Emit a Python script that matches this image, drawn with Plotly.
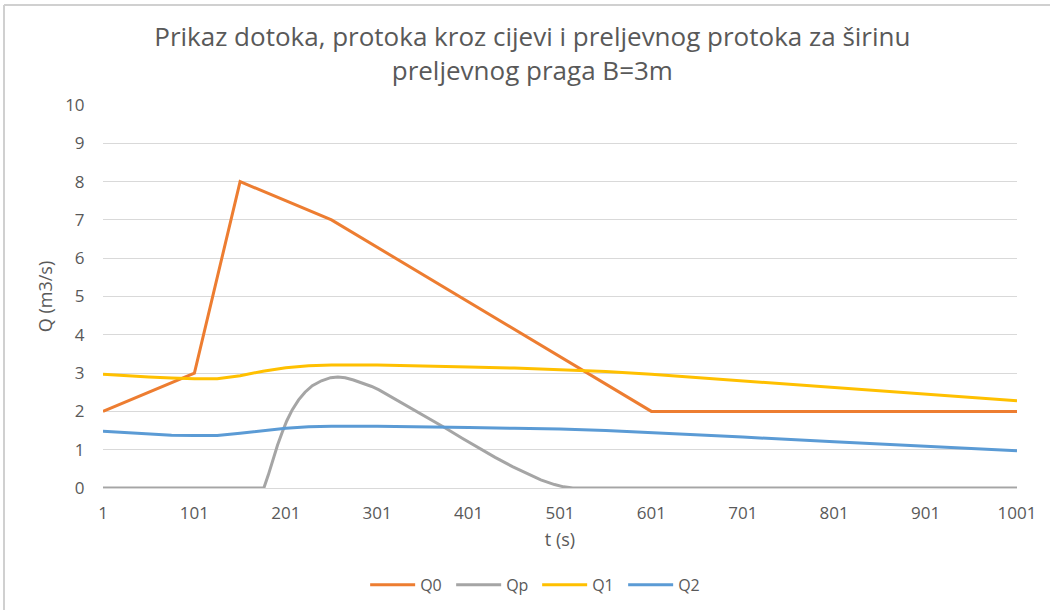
import plotly.graph_objects as go

# ---- data ----
t_q0 = [1, 101, 151, 251, 601, 1001]
q0 = [2.0, 3.0, 8.0, 7.0, 2.0, 2.0]

t_qp = [1, 177, 182, 187, 192, 197, 202, 208, 215, 222, 230, 240, 250, 258, 266, 275, 285, 295, 303,
        320, 340, 358, 376, 394, 412, 430, 449, 465, 480, 495, 505, 515, 1001]
qp = [0.0, 0.0, 0.35, 0.75, 1.12, 1.45, 1.75, 2.04, 2.3, 2.5, 2.67, 2.8, 2.88, 2.9, 2.88, 2.82, 2.74, 2.65, 2.56,
      2.33, 2.04, 1.8, 1.56, 1.3, 1.05, 0.8, 0.56, 0.37, 0.21, 0.09, 0.03, 0.0, 0.0]

t_q = [1, 26, 51, 76, 101, 126, 151, 176, 201, 226, 251, 301, 351, 401, 451, 501, 551, 601, 701, 801, 901, 1001]
q1 = [2.97, 2.93, 2.9, 2.87, 2.85, 2.85, 2.93, 3.05, 3.14, 3.19, 3.21, 3.21, 3.19, 3.16, 3.13, 3.09, 3.04, 2.97, 2.8, 2.63, 2.45, 2.28]
q2 = [1.48, 1.45, 1.41, 1.38, 1.37, 1.37, 1.43, 1.5, 1.56, 1.6, 1.61, 1.61, 1.6, 1.58, 1.56, 1.54, 1.5, 1.45, 1.33, 1.21, 1.09, 0.97]

x_ticks = [1, 101, 201, 301, 401, 501, 601, 701, 801, 901, 1001]
y_ticks = [0, 1, 2, 3, 4, 5, 6, 7, 8, 9, 10]

series = [
    ("Q0", t_q0, q0, "#ED7D31"),
    ("Qp", t_qp, qp, "#A5A5A5"),
    ("Q1", t_q, q1, "#FFC000"),
    ("Q2", t_q, q2, "#5B9BD5"),
]

fig = go.Figure()
for name, t, q, col in series:
    fig.add_trace(go.Scatter(x=t, y=q, name=name, mode="lines",
                             line=dict(color=col, width=3)))

font_main = "Open Sans, Noto Sans, sans-serif"
gray = "#595959"

fig.update_layout(
    width=1050, height=610,
    margin=dict(l=103, r=33, t=105, b=122, autoexpand=False),
    paper_bgcolor="white", plot_bgcolor="white",
    font=dict(family=font_main, color=gray, size=17),
    title=dict(text="Prikaz dotoka, protoka kroz cijevi i preljevnog protoka za širinu<br>preljevnog praga B=3m",
               x=0.507, xanchor="center", y=0.925, yanchor="middle",
               font=dict(family=font_main, size=26, color=gray)),
    xaxis=dict(range=[1, 1001], tickvals=x_ticks, ticktext=[str(v) for v in x_ticks],
               showgrid=False, zeroline=False, showline=False,
               ticks="outside", ticklen=10, tickcolor="rgba(0,0,0,0)",
               tickfont=dict(size=17, color=gray),
               title=dict(text="t (s)", font=dict(size=18, color=gray), standoff=9)),
    yaxis=dict(range=[0, 10], tickvals=y_ticks, showgrid=True, gridcolor="#D9D9D9", gridwidth=1,
               zeroline=True, zerolinecolor="#D9D9D9", zerolinewidth=1, showline=False,
               ticks="outside", ticklen=14, tickcolor="rgba(0,0,0,0)",
               tickfont=dict(size=17, color=gray),
               title=dict(text="Q (m3/s)", font=dict(size=18, color=gray), standoff=7)),
    legend=dict(orientation="h", x=0.475, xanchor="center", y=-0.253, yanchor="middle",
                font=dict(size=16, color=gray), itemwidth=45, entrywidth=26),
    showlegend=True,
    shapes=[
        dict(type="line", xref="paper", yref="paper", x0=-0.1083, x1=-0.1083, y0=1.261, y1=-0.4,
             line=dict(color="#D0D0D0", width=2)),
        dict(type="line", xref="paper", yref="paper", x0=-0.1083, x1=1.05, y0=1.261, y1=1.261,
             line=dict(color="#D0D0D0", width=2)),
    ],
)

fig.write_html("out.html", config={"displayModeBar": False},
               post_script="document.body.style.margin='0px';")
